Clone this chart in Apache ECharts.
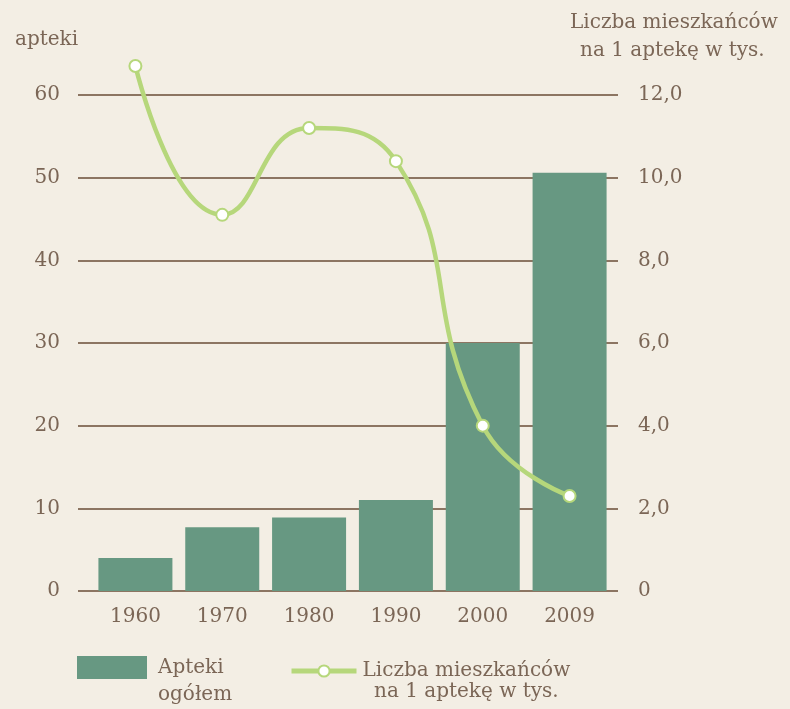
<!DOCTYPE html>
<html>
<head>
<meta charset="UTF-8">
<script src="https://cdn.jsdelivr.net/npm/echarts@6/dist/echarts.min.js"></script>
<style>
  html, body { margin: 0; background: #f3eee4; }
  #c { width: 790px; height: 709px; }
</style>
</head>
<body>
<div id="c"></div>
<script>
// dane
const years = ["1960", "1970", "1980", "1990", "2000", "2009"];
const apteki = [4, 7.7, 8.9, 11, 30, 50.6];
const mieszkancy = [12.7, 9.1, 11.2, 10.4, 4.0, 2.3];
const leftTicks = { min: 0, max: 60, interval: 10 };
const rightTicks = { min: 0, max: 12, interval: 2 };

const FONT = "DejaVu Serif";
const TXT = "#7b6656";
const GRID = "#8c7562";
const BAR = "#679882";
const LINE = "#b6d77b";

const chart = echarts.init(document.getElementById("c"), null, { renderer: "canvas" });

const fmtRight = v => (v === 0 ? "0" : v.toFixed(1).replace(".", ","));
const txt = (s, x, y) => ({ type: "text", left: x, top: y, style: { text: s, font: `20px "${FONT}"`, fill: TXT } });

chart.setOption({
    backgroundColor: "#f3eee4",
    animation: false,
    textStyle: { fontFamily: FONT, color: TXT },
    grid: [
        // tło: linie siatki + etykiety osi
        { left: 78, right: 172, top: 95, bottom: 118 },
        // słupki i linia
        { left: 92, right: 177, top: 95, bottom: 118 }
    ],
    xAxis: [
        { type: "category", gridIndex: 0, data: years, show: false },
        {
            type: "category", gridIndex: 1, data: years,
            axisLine: { show: false }, axisTick: { show: false },
            axisLabel: { color: TXT, fontFamily: FONT, fontSize: 20, margin: 16 }
        }
    ],
    yAxis: [
        {
            type: "value", gridIndex: 0, position: "left", ...leftTicks,
            axisLine: { show: false }, axisTick: { show: false },
            axisLabel: { color: TXT, fontFamily: FONT, fontSize: 20, margin: 18 },
            splitLine: { lineStyle: { color: GRID, width: 2 } }
        },
        {
            type: "value", gridIndex: 0, position: "right", ...rightTicks,
            axisLine: { show: false }, axisTick: { show: false },
            axisLabel: { color: TXT, fontFamily: FONT, fontSize: 20, margin: 20, formatter: fmtRight },
            splitLine: { show: false }
        },
        { type: "value", gridIndex: 1, ...leftTicks, show: false, splitLine: { show: false } },
        { type: "value", gridIndex: 1, ...rightTicks, show: false, splitLine: { show: false } }
    ],
    legend: [
        {
            data: ["Apteki ogółem"],
            left: 72, top: 651, itemWidth: 70, itemHeight: 23,
            icon: "rect",
            formatter: () => "Apteki",
            textStyle: { color: TXT, fontFamily: FONT, fontSize: 20, padding: [0, 0, 0, 6] }
        },
        {
            data: ["Liczba mieszkańców na 1 aptekę w tys."],
            left: 284, top: 656, itemWidth: 65, itemHeight: 14,
            lineStyle: { width: 5 },
            formatter: () => "Liczba mieszkańców",
            textStyle: { color: TXT, fontFamily: FONT, fontSize: 20, padding: [0, 0, 0, 1] }
        }
    ],
    graphic: [
        txt("apteki", 15, 30),
        txt("Liczba mieszkańców", 570, 13),
        txt("na 1 aptekę w tys.", 580, 41),
        // druga linia opisów legendy
        txt("ogółem", 158, 685),
        txt("na 1 aptekę w tys.", 374, 682)
    ],
    series: [
        {
            name: "Apteki ogółem", type: "bar", xAxisIndex: 1, yAxisIndex: 2,
            data: apteki, barWidth: 74,
            itemStyle: { color: BAR }
        },
        {
            name: "Liczba mieszkańców na 1 aptekę w tys.", type: "line", xAxisIndex: 1, yAxisIndex: 3,
            data: mieszkancy, smooth: 0.5, clip: false,
            symbol: "circle", symbolSize: 12,
            lineStyle: { color: LINE, width: 4.5 },
            itemStyle: { color: "#ffffff", borderColor: LINE, borderWidth: 2 },
            z: 5
        }
    ]
});
</script>
</body>
</html>
